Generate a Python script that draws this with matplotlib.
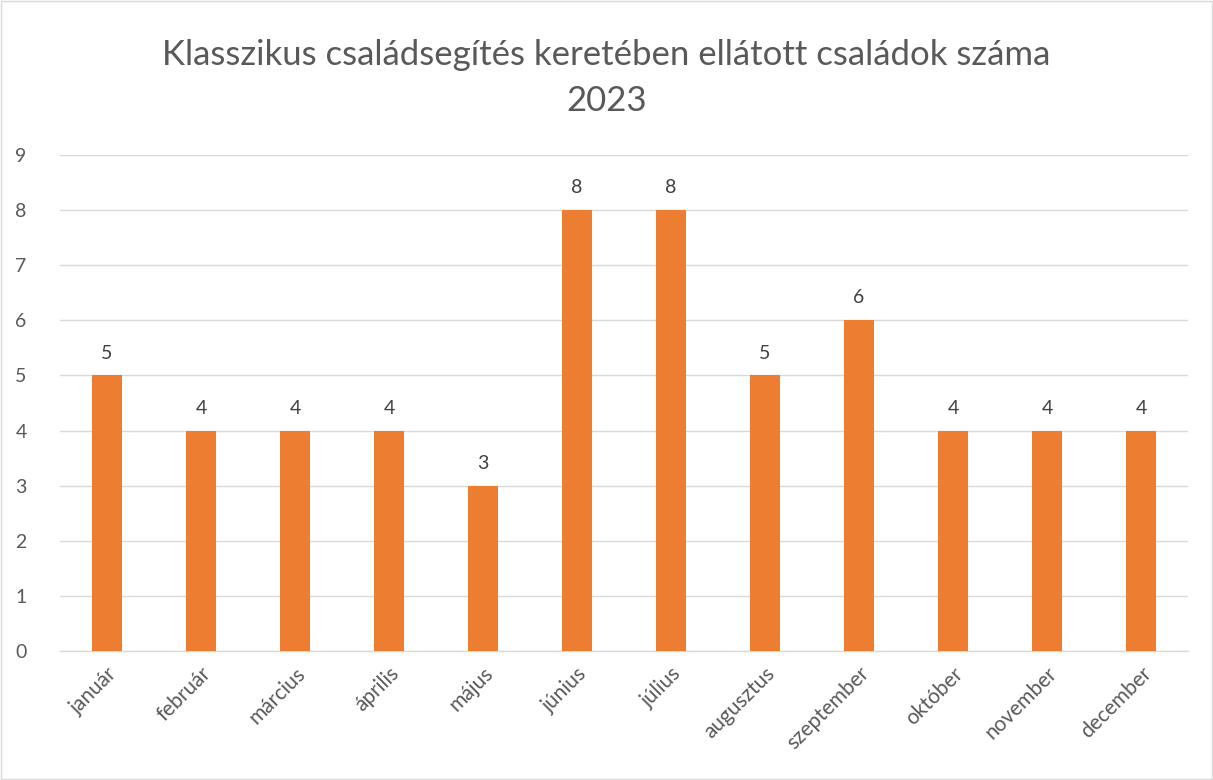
import matplotlib
matplotlib.use("Agg")
import matplotlib.pyplot as plt
from matplotlib.patches import Rectangle

months = ["január", "február", "március", "április", "május", "június",
          "július", "augusztus", "szeptember", "október", "november", "december"]
values = [5, 4, 4, 4, 3, 8, 8, 5, 6, 4, 4, 4]
yticks = list(range(0, 10))
title = "Klasszikus családsegítés keretében ellátott családok száma\n2023"

plt.rcParams['font.family'] = ['Lato', 'DejaVu Sans']
txt = "#595959"

fig = plt.figure(figsize=(12.13, 7.80), dpi=100)
ax = fig.add_axes([60/1213, 1-651/780, 1128/1213, 496/780])

x = list(range(len(months)))
bars = ax.bar(x, values, width=0.32, color="#ED7D31", zorder=3)
for xi, v in zip(x, values):
    ax.annotate(str(v), (xi, v), xytext=(0, 10), textcoords="offset points",
                ha="center", va="bottom", fontsize=14, color="#404040")

ax.set_xlim(-0.5, len(months) - 0.5)
ax.set_ylim(0, 9)
ax.set_yticks(yticks)
ax.set_yticklabels([str(t) for t in yticks], fontsize=14, color=txt)
ax.set_xticks(x)
ax.set_xticklabels(months, rotation=45, ha="right", rotation_mode="anchor",
                   fontsize=15, color=txt)
ax.tick_params(axis="both", length=0, pad=9)
ax.tick_params(axis="y", pad=24)
ax.grid(axis="y", color="#D9D9D9", linewidth=1, zorder=0)
for s in ["top", "right", "left"]:
    ax.spines[s].set_visible(False)
ax.spines["bottom"].set_color("#D9D9D9")
ax.spines["bottom"].set_linewidth(1)

fig.text(0.5, 1-78/780, title, ha="center", va="center", fontsize=25,
         color=txt, linespacing=1.55)

fig.patches.append(Rectangle((0.001, 0.001), 0.998, 0.998, transform=fig.transFigure,
                             fill=False, edgecolor="#D9D9D9", linewidth=1))

fig.savefig("out.png", dpi=100)
